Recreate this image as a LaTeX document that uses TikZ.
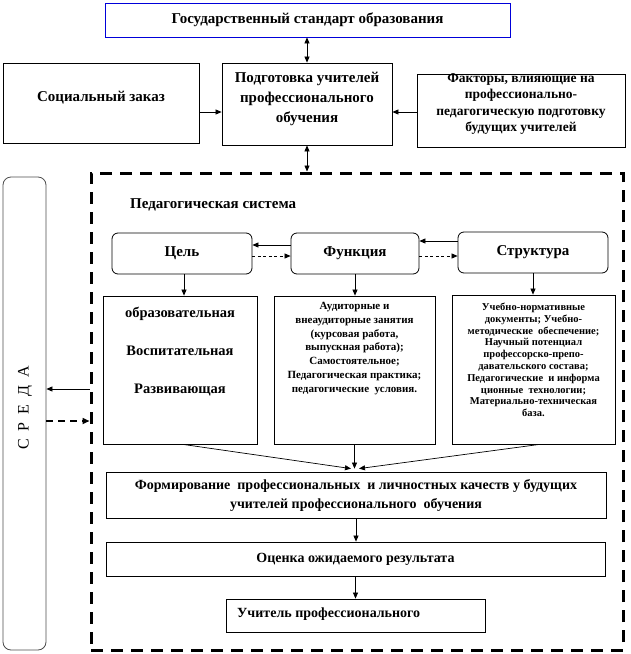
\documentclass[tikz,border=0pt]{standalone}
\usepackage{fontspec}
\setmainfont{Liberation Serif}
\usetikzlibrary{arrows.meta,calc}
\begin{document}
\begin{tikzpicture}[x=1pt,y=1pt,
 plain/.style={draw=black, line width=0.8pt, inner sep=0pt},
 rbox/.style={plain, rounded corners=6pt, align=center, font=\bfseries\fontsize{15}{18}\selectfont},
 txt/.style={inner sep=0pt, align=center, font=\bfseries\fontsize{15}{20}\selectfont},
 arr/.style={-{Triangle[length=6pt,width=5pt]}, line width=0.7pt},
 darr/.style={{Triangle[length=6pt,width=5pt]}-{Triangle[length=6pt,width=5pt]}, line width=0.7pt},
 dsh/.style={arr, dash pattern=on 3pt off 2.5pt},
]
\useasboundingbox (0,0) rectangle (630,-654);

% top row
\node[plain, draw=blue!85!black, minimum width=405pt, minimum height=34pt, txt] (gos) at (307.5,-20) {Государственный стандарт образования};
\node[plain, minimum width=196pt, minimum height=80pt] (soc) at (101,-103) {};
\node[txt] (soct) at (101,-98) {Социальный заказ};
\node[plain, minimum width=170pt, minimum height=82pt] (pod) at (307,-104) {};
\node[txt] (podt) at (307,-99) {Подготовка учителей\\профессионального\\обучения};
\node[plain, minimum width=208pt, minimum height=73pt] (fak) at (521,-110.5) {};
\node[txt, font=\bfseries\fontsize{13.5}{16.5}\selectfont] (fakt) at (521,-104) {Факторы, влияющие на\\профессионально-\\педагогическую подготовку\\будущих учителей};

% environment and frame
\node[draw=black!70, line width=0.8pt, rounded corners=8pt, minimum width=43pt, minimum height=473pt] (sreda) at (24.5,-413.5) {};
\node[rotate=90, inner sep=0pt, font=\fontsize{16}{16}\selectfont] (sredat) at (25,-408) {С\hspace{8pt}Р\hspace{8pt}Е\hspace{8pt}Д\hspace{8pt}А};
\node[draw=black, line width=3pt, dash pattern=on 12pt off 8pt, minimum width=532pt, minimum height=477pt] (frame) at (357,-411.5) {};
\node[anchor=west, inner sep=0pt, font=\bfseries\fontsize{15}{18}\selectfont] (pedt) at (130,-205) {Педагогическая система};

% level 1
\node[rbox, minimum width=140pt, minimum height=41pt] (cel) at (182,-253.5) {Цель};
\node[rbox, minimum width=128pt, minimum height=41pt] (fun) at (355,-253.5) {Функция};
\node[rbox, minimum width=150pt, minimum height=41pt] (str) at (533,-252.5) {Структура};

% level 2
\node[plain, minimum width=154pt, minimum height=148pt] (b1) at (180,-370) {};
\node[txt, font=\bfseries\fontsize{14.5}{38}\selectfont] (b1t) at (180,-352) {образовательная\\Воспитательная\\Развивающая};
\node[plain, minimum width=161pt, minimum height=148pt] (b2) at (354.5,-370) {};
\node[txt, font=\bfseries\fontsize{11}{13.8}\selectfont] (b2t) at (354.5,-348.5) {Аудиторные и\\внеаудиторные занятия\\(курсовая работа,\\выпускная работа);\\Самостоятельное;\\Педагогическая практика;\\педагогические\ \ условия.};
\node[plain, minimum width=163pt, minimum height=149pt] (b3) at (533.5,-369.5) {};
\node[txt, font=\bfseries\fontsize{10.5}{11.8}\selectfont] (b3t) at (533.5,-360) {Учебно-нормативные\\документы; Учебно-\\методические\ \ обеспечение;\\Научный потенциал\\профессорско-препо-\\давательского состава;\\Педагогические\ \ и информа\\ционные\ \ технологии;\\Материально-техническая\\база.};

% bottom
\node[plain, minimum width=500pt, minimum height=46pt, txt, font=\bfseries\fontsize{14}{19}\selectfont] (form) at (356,-495) {Формирование\ \ профессиональных\ \ и личностных качеств у будущих\\учителей профессионального\ \ обучения};
\node[plain, minimum width=499pt, minimum height=34pt, txt, font=\bfseries\fontsize{14}{17}\selectfont] (ocen) at (355.5,-559) {Оценка ожидаемого результата};
\node[plain, minimum width=259pt, minimum height=33pt] (uch) at (355.5,-615.5) {};
\node[txt, anchor=west, font=\bfseries\fontsize{14}{17}\selectfont] (ucht) at (237,-614) {Учитель профессионального};

% connectors top
\draw[darr] (gos.south -| pod.north) -- (pod.north);
\draw[darr] (pod.south) -- (pod.south |- frame.north);
\coordinate (yS) at (0,-112);
\draw[arr] (soc.east |- yS) -- (pod.west |- yS);
\draw[arr] (fak.west |- yS) -- (pod.east |- yS);

% between level-1 boxes
\coordinate (y1) at (0,-245);
\coordinate (y2) at (0,-256);
\coordinate (y3) at (0,-241);
\draw[arr] (fun.west |- y1) -- (cel.east |- y1);
\draw[dsh] (cel.east |- y2) -- (fun.west |- y2);
\draw[arr] (str.west |- y3) -- (fun.east |- y3);
\draw[dsh] (fun.east |- y2) -- (str.west |- y2);

% down
\draw[arr] ([xshift=2pt]cel.south) -- ([xshift=2pt]cel.south |- b1.north);
\draw[arr] (fun.south) -- (fun.south |- b2.north);
\draw[arr] (str.south) -- (str.south |- b3.north);
\draw[arr] ([xshift=3pt]b1.south) -- ([xshift=-5pt,yshift=3pt]form.north);
\draw[arr] (b2.south) -- ([yshift=3pt]b2.south |- form.north);
\draw[arr] ([xshift=6pt]b3.south) -- ([xshift=3pt,yshift=3pt]form.north);
\draw[arr] (form.south) -- (form.south |- ocen.north);
\draw[arr] (ocen.south) -- (ocen.south |- uch.north);

% environment arrows
\coordinate (ya) at (0,-389);
\coordinate (yb) at (0,-421);
\draw[arr] (frame.west |- ya) -- (sreda.east |- ya);
\draw[-{Triangle[length=7pt,width=6pt]}, line width=1.6pt, dash pattern=on 7pt off 5pt] (sreda.east |- yb) -- (frame.west |- yb);
\end{tikzpicture}
\end{document}
